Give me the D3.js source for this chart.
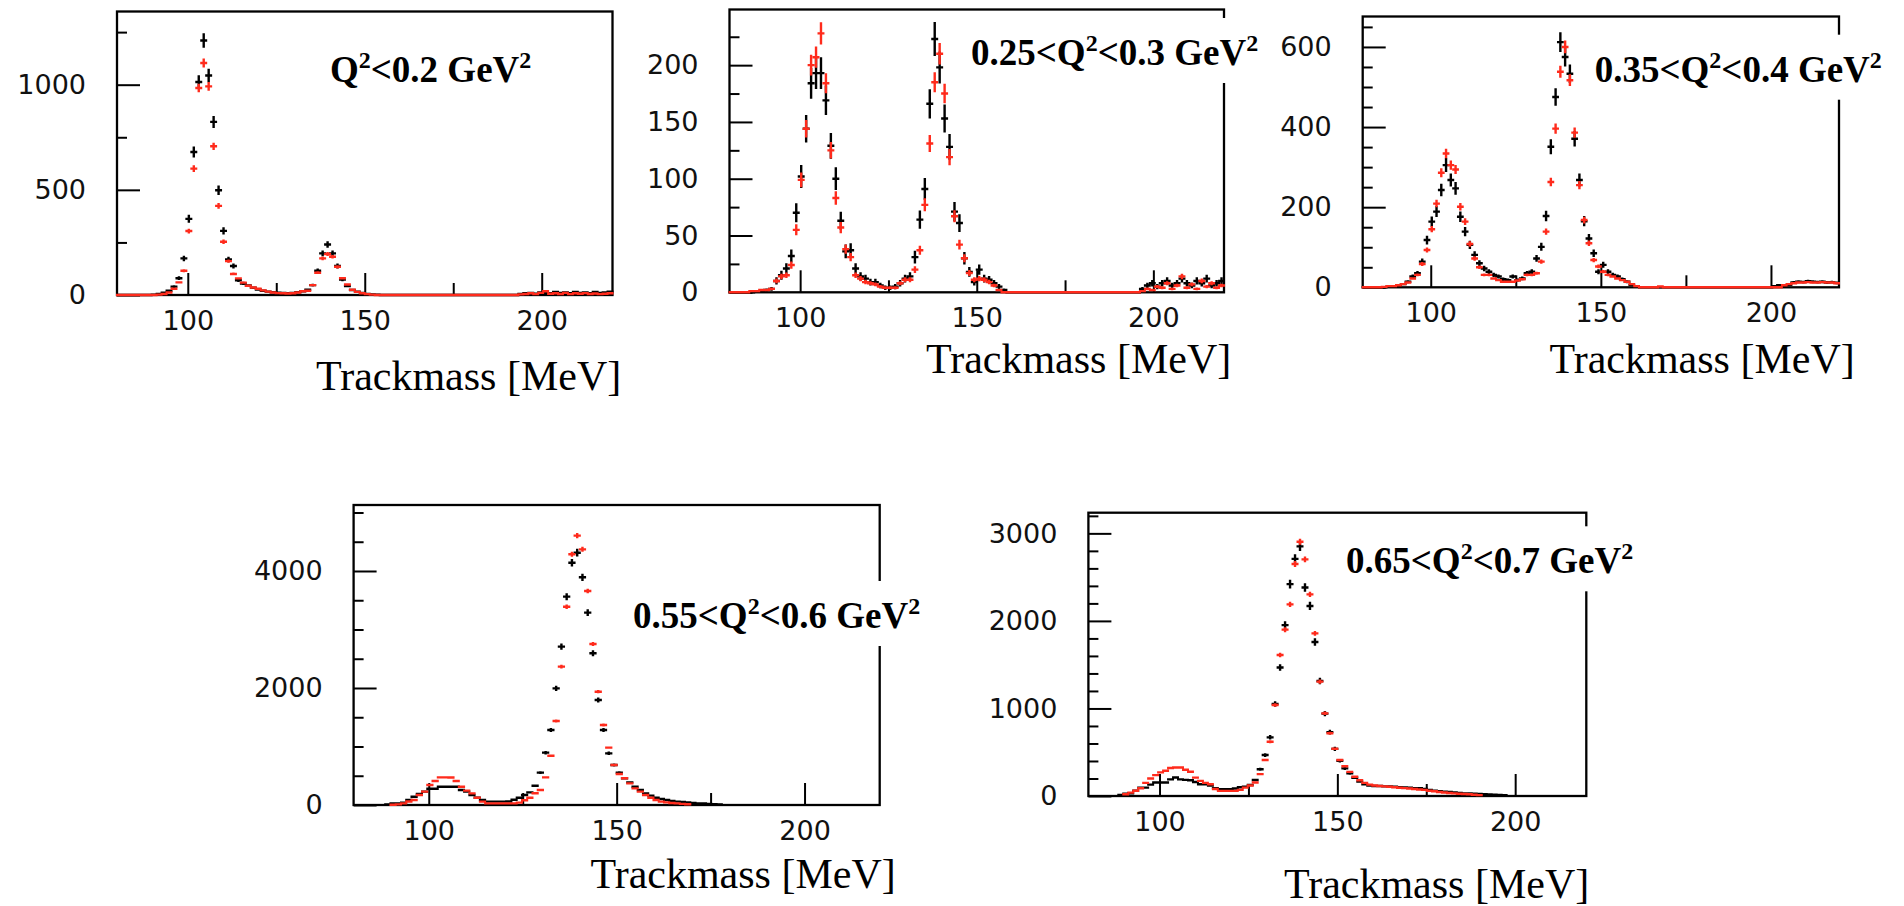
<!DOCTYPE html>
<html><head><meta charset="utf-8">
<script src="https://cdn.jsdelivr.net/npm/d3@7"></script>
<style>body{margin:0;background:#fff;} svg{display:block;}</style>
</head><body>
<svg id="c" width="1904" height="906"></svg>
<script>
// ---------- shared binning / axis values ----------
const massMin = 80, massMax = 220, binWidth = 1.4;
const xTicksMajor = [100, 150, 200];
const xTicksMinor = [125, 175];
const xAxisTitle = "Trackmass [MeV]";

// ---------- panel 1 : Q2<0.2 ----------
const p1Label = [["Q",0],["2",1],["<0.2 GeV",0],["2",1]];
const p1YTicks = [0, 500, 1000];
const p1YMinor = [250, 750, 1250];
const p1Black = [
 0,0,0,0,0,0,0,2,5,11,
 20,40,80,174,362,680,1013,1210,1044,823,
 498,305,169,138,70,55,45,35,26,20,
 16,13,11,10,9,10,13,18,25,47,
 115,198,240,198,138,74,43,24,16,10,
 5,3,2,0,0,0,0,0,0,0,
 0,0,0,0,0,0,0,0,0,0,
 0,0,0,0,0,0,0,0,0,0,
 0,5,8,10,6,12,10,8,14,10,
 12,8,15,10,12,9,14,10,12,16];
const p1Red = [
 0,0,0,0,0,0,0,0,2,5,
 12,30,60,115,304,601,984,1103,992,707,
 424,253,161,100,79,59,44,36,30,22,
 16,12,9,8,7,8,12,18,20,47,
 106,174,195,182,134,80,50,25,15,8,
 4,2,0,0,0,0,0,0,0,0,
 0,0,0,0,0,0,0,0,0,0,
 0,0,0,0,0,0,0,0,0,0,
 0,3,5,8,4,10,18,6,8,5,
 10,4,8,6,9,5,7,4,6,8];

// ---------- panel 2 : 0.25<Q2<0.3 ----------
const p2Label = [["0.25<Q",0],["2",1],["<0.3 GeV",0],["2",1]];
const p2YTicks = [0, 50, 100, 150, 200];
const p2YMinor = [25, 75, 125, 175, 225];
const p2Black = [
 0,0,0,0,0,1,1,2,3,10,
 15,21,32,70,102,144,184,193,193,169,
 129,100,63,36,37,21,14,12,9,9,
 6,4,4,5,8,12,14,31,64,91,
 166,223,198,153,128,71,61,30,18,9,
 20,12,11,8,5,2,0,0,0,0,
 0,0,0,0,0,0,0,0,0,0,
 0,0,0,0,0,0,0,0,0,0,
 0,0,0,3,6,8,5,8,10,6,
 8,12,8,6,10,8,12,6,8,10];
const p2Red = [
 0,0,0,0,1,1,2,2,3,10,
 14,15,24,55,99,144,200,207,228,184,
 125,83,57,38,31,15,12,9,8,7,
 5,4,4,4,8,11,11,20,37,77,
 131,185,210,175,119,67,42,30,17,11,
 12,11,9,6,2,0,0,0,0,0,
 0,0,0,0,0,0,0,0,0,0,
 0,0,0,0,0,0,0,0,0,0,
 0,0,0,1,3,2,5,4,8,3,
 6,14,4,7,3,10,5,8,4,6];

// ---------- panel 3 : 0.35<Q2<0.4 ----------
const p3Label = [["0.35<Q",0],["2",1],["<0.4 GeV",0],["2",1]];
const p3YTicks = [0, 200, 400, 600];
const p3YMinor = [50,100,150,250,300,350,450,500,550,650];
const p3Black = [
 0,0,0,0,0,2,3,4,8,14,
 27,35,64,118,164,189,243,305,268,247,
 176,139,106,81,60,47,39,31,27,20,
 18,27,18,22,35,39,72,101,178,351,
 475,612,575,533,371,268,165,122,85,39,
 56,39,31,27,20,14,6,3,0,0,
 0,0,0,0,0,0,0,0,0,0,
 0,0,0,0,0,0,0,0,0,0,
 0,0,0,0,0,0,3,5,4,6,
 12,14,13,15,14,13,14,12,13,11];
const p3Red = [
 0,0,0,0,1,3,3,5,8,12,
 22,31,58,93,145,209,286,334,305,294,
 201,164,108,72,50,31,31,22,18,14,
 14,14,17,20,31,31,35,64,139,263,
 396,538,600,517,386,255,168,110,68,52,
 39,31,27,22,18,14,8,3,0,0,
 0,0,2,0,0,0,0,0,0,0,
 0,0,0,0,0,0,0,0,0,0,
 0,0,0,0,0,0,0,0,5,8,
 10,12,12,13,12,12,13,12,12,10];

// ---------- panel 4 : 0.55<Q2<0.6 ----------
const p4Label = [["0.55<Q",0],["2",1],["<0.6 GeV",0],["2",1]];
const p4YTicks = [0, 2000, 4000];
const p4YMinor = [500,1000,1500,2500,3000,3500,4500,5000];
const p4BlackStart = 6;
const p4Black = [
 10,28,28,40,85,142,188,228,279,279,
 313,313,313,313,256,228,171,125,85,57,
 57,57,57,60,90,125,171,216,330,553,
 895,1282,1994,2707,3561,4142,4313,3892,3288,2593,
 1795,1282,883,684,553,456,387,313,256,199,
 160,125,103,85,70,57,50,45,35,28,
 25,20,15,10];
const p4RedStart = 7;
const p4Red = [
 5,10,28,60,85,171,228,342,410,
 473,473,470,410,313,245,199,125,57,28,
 28,28,28,28,28,40,80,125,200,256,
 473,843,1436,2365,3390,4285,4604,4370,3658,2752,
 1937,1368,980,684,530,456,370,285,228,171,
 125,85,57,45,35,28,20,12];

// ---------- panel 5 : 0.65<Q2<0.7 ----------
const p5Label = [["0.65<Q",0],["2",1],["<0.7 GeV",0],["2",1]];
const p5YTicks = [0, 1000, 2000, 3000];
const p5YMinor = [200,400,600,800,1200,1400,1600,1800,2200,2400,2600,2800,3200];
const p5BlackStart = 6;
const p5Black = [
 11,25,31,60,96,96,130,154,154,154,
 190,211,190,184,180,160,134,134,120,90,
 77,77,77,85,100,107,126,183,305,468,
 670,1051,1468,1952,2420,2708,2851,2382,2171,1759,
 1314,941,730,538,403,316,259,209,164,133,
 120,114,114,110,108,105,100,99,95,90,
 88,80,70,60,55,50,45,40,35,30,
 28,25,23,20,18,15,12,10];
const p5RedStart = 7;
const p5Red = [
 20,38,60,88,150,200,238,270,288,
 320,326,326,300,277,210,173,150,134,80,
 58,58,58,58,70,96,120,154,250,411,
 620,1039,1610,1900,2189,2650,2904,2703,2303,1858,
 1306,944,716,540,411,340,275,220,180,150,
 130,120,115,110,105,100,95,90,85,80,
 75,70,60,55,45,40,35,30,25,22,
 20,15,10];

// ---------- layout ----------
const panels = [
 {left:117, right:612.5, top:11.5, bottom:295, yMax:1348, yTicks:p1YTicks, yMinor:p1YMinor,
  black:p1Black, blackStart:0, red:p1Red, redStart:0, label:p1Label, labelX:330, labelY:82, titleX:316, titleY:390},
 {left:729.5, right:1224, top:9.5, bottom:292.3, yMax:249, yTicks:p2YTicks, yMinor:p2YMinor,
  black:p2Black, blackStart:0, red:p2Red, redStart:0, label:p2Label, labelX:971, labelY:65, titleX:926, titleY:373},
 {left:1362.7, right:1839, top:16.5, bottom:287.3, yMax:676, yTicks:p3YTicks, yMinor:p3YMinor,
  black:p3Black, blackStart:0, red:p3Red, redStart:0, label:p3Label, labelX:1594.7, labelY:81.7, titleX:1549.5, titleY:373},
 {left:353.6, right:879.7, top:505, bottom:805, yMax:5128, yTicks:p4YTicks, yMinor:p4YMinor,
  black:p4Black, blackStart:p4BlackStart, red:p4Red, redStart:p4RedStart, label:p4Label, labelX:633, labelY:628, titleX:590.5, titleY:888},
 {left:1088.4, right:1586.3, top:512.7, bottom:796, yMax:3236, yTicks:p5YTicks, yMinor:p5YMinor,
  black:p5Black, blackStart:p5BlackStart, red:p5Red, redStart:p5RedStart, label:p5Label, labelX:1346, labelY:573.3, titleX:1284, titleY:898}
];

const RED = "#ff2b1c";
const svg = d3.select("#c");

panels.forEach(p => {
  const g = svg.append("g");
  const x = d3.scaleLinear().domain([massMin, massMax]).range([p.left, p.right]);
  const y = d3.scaleLinear().domain([0, p.yMax]).range([p.bottom, p.top]);
  const hw = (x(massMin + binWidth) - x(massMin)) / 2 + 1;

  const styleTicks = a => { a.select(".domain").remove(); a.selectAll("line").attr("stroke","#000").attr("stroke-width",2); };
  const styleLabels = a => { a.select(".domain").remove();
      a.selectAll("text").attr("font-family","DejaVu Sans").attr("font-size",27).attr("fill","#111"); };

  // inward y ticks
  g.append("g").attr("transform", `translate(${p.left},0)`)
    .call(d3.axisRight(y).tickValues(p.yMinor).tickSize(10).tickFormat("")).call(styleTicks);
  g.append("g").attr("transform", `translate(${p.left},0)`)
    .call(d3.axisRight(y).tickValues(p.yTicks).tickSize(23).tickFormat("")).call(styleTicks);
  g.append("g").attr("transform", `translate(${p.left},0)`)
    .call(d3.axisLeft(y).tickValues(p.yTicks).tickSize(0).tickPadding(31).tickFormat(d3.format("d"))).call(styleLabels);

  // inward x ticks
  g.append("g").attr("transform", `translate(0,${p.bottom})`)
    .call(d3.axisTop(x).tickValues(xTicksMinor).tickSize(12).tickFormat("")).call(styleTicks);
  g.append("g").attr("transform", `translate(0,${p.bottom})`)
    .call(d3.axisTop(x).tickValues(xTicksMajor).tickSize(22).tickFormat("")).call(styleTicks);
  g.append("g").attr("transform", `translate(0,${p.bottom})`)
    .call(d3.axisBottom(x).tickValues(xTicksMajor).tickSize(0).tickPadding(16).tickFormat(d3.format("d"))).call(styleLabels);

  // frame
  g.append("rect").attr("x", p.left).attr("y", p.top)
    .attr("width", p.right - p.left).attr("height", p.bottom - p.top)
    .attr("fill","none").attr("stroke","#000").attr("stroke-width",2.3);

  // data (points with error bars)
  function series(vals, start, color, errScale) {
    let d = "";
    vals.forEach((v, i) => {
      const k = start + i;
      const c = x(massMin + binWidth * (k + 0.5));
      const yv = y(v);
      d += `M${c - hw},${yv}H${c + hw}`;
      const e = Math.sqrt(v) * errScale;
      if (e > 0) d += `M${c},${y(v - e)}V${y(v + e)}`;
    });
    g.append("path").attr("d", d).attr("fill","none").attr("stroke", color)
      .attr("stroke-width", 2.4).attr("stroke-linecap","butt");
  }
  series(p.black, p.blackStart, "#000", 1.0);
  series(p.red, p.redStart, RED, 0.65);

  // Q2 label with white box
  const lab = svg.append("text").attr("x", p.labelX).attr("y", p.labelY)
    .attr("font-family","Liberation Serif").attr("font-weight","bold").attr("font-size",37).attr("fill","#000");
  let raised = false;
  p.label.forEach(([t, sup]) => {
    if (sup) {
      lab.append("tspan").attr("font-size", 24).attr("dy", -14).text(t);
      raised = true;
    } else {
      lab.append("tspan").attr("dy", raised ? 14 : 0).text(t);
      raised = false;
    }
  });
  const bb = lab.node().getBBox();
  svg.insert("rect", () => lab.node()).attr("x", bb.x - 6).attr("y", p.labelY - 47)
    .attr("width", bb.width + 12).attr("height", 65).attr("fill","#fff");

  // axis title
  svg.append("text").attr("x", p.titleX).attr("y", p.titleY)
    .attr("font-family","Liberation Serif").attr("font-size",42).attr("fill","#000")
    .text(xAxisTitle);
});
</script>
</body></html>
